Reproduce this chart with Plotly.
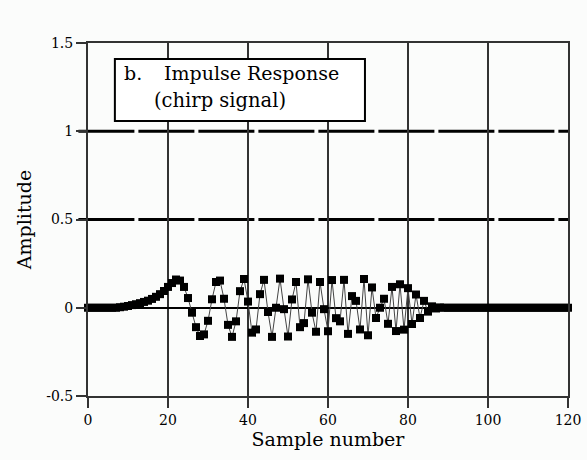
import plotly.graph_objects as go

# ---- data ----
sample_number = list(range(121))
amplitude = (
    [0.0] * 8
    + [0.003, 0.006, 0.010, 0.015, 0.020, 0.026, 0.033, 0.040, 0.050, 0.062,
       0.077, 0.095, 0.118, 0.140, 0.160, 0.154, 0.118, 0.055, -0.028, -0.110,
       -0.160, -0.151, -0.074, 0.048, 0.146, 0.154, 0.051, -0.097, -0.165, -0.077,
       0.094, 0.163, 0.035, -0.141, -0.123, 0.077, 0.158, -0.024, -0.165, 0.000,
       0.165, -0.008, -0.163, 0.047, 0.146, -0.110, -0.087, 0.161, -0.028, -0.136,
       0.146, -0.008, -0.133, 0.157, -0.059, -0.077, 0.158, -0.148, 0.066, 0.039,
       -0.123, 0.163, -0.156, 0.115, -0.058, 0.000, 0.051, -0.091, 0.118, -0.132,
       0.133, -0.124, 0.111, -0.092, 0.075, -0.058, 0.039, -0.022, 0.008, -0.004,
       0.002]
    + [0.0] * 32
)
x_ticks = [0, 20, 40, 60, 80, 100, 120]
y_ticks = [-0.5, 0, 0.5, 1, 1.5]
y_tick_labels = ["-0.5", "0", "0.5", "1", "1.5"]
dashed_levels = [0.5, 1.0]

FONT = "DejaVu Serif"
BG = "#fbfcfb"

fig = go.Figure()
fig.add_trace(go.Scatter(
    x=sample_number, y=amplitude, mode="lines+markers",
    line=dict(color="#444444", width=1),
    marker=dict(symbol="square", size=8, color="black", line=dict(width=0)),
    showlegend=False, hoverinfo="x+y", cliponaxis=False,
))

shapes = []
for lv in dashed_levels:
    shapes.append(dict(type="line", xref="paper", yref="y", x0=-0.02, x1=1.0, y0=lv, y1=lv,
                       line=dict(color="black", width=3, dash="56px,4px"), layer="below"))
# text box
shapes.append(dict(type="rect", xref="paper", yref="paper", x0=0.056, x1=0.577, y0=0.779, y1=0.955,
                   line=dict(color="black", width=2), fillcolor="white", layer="above"))

fig.update_layout(
    width=587, height=460,
    margin=dict(l=88, r=19, t=43, b=64, autoexpand=False),
    paper_bgcolor=BG, plot_bgcolor=BG,
    font=dict(family=FONT, color="black"),
    shapes=shapes,
    annotations=[
        dict(xref="paper", yref="paper", x=0.071, y=0.915, xanchor="left", yanchor="middle",
             text="b.", showarrow=False, font=dict(family=FONT, size=19, color="black")),
        dict(xref="paper", yref="paper", x=0.154, y=0.915, xanchor="left", yanchor="middle",
             text="Impulse Response", showarrow=False, font=dict(family=FONT, size=19, color="black")),
        dict(xref="paper", yref="paper", x=0.133, y=0.838, xanchor="left", yanchor="middle",
             text="(chirp signal)", showarrow=False, font=dict(family=FONT, size=19.5, color="black")),
    ],
    xaxis=dict(
        range=[0, 120], tickvals=x_ticks, ticktext=[str(v) for v in x_ticks],
        showgrid=True, gridcolor="#333333", gridwidth=1.5,
        showline=True, linecolor="#333333", linewidth=2, mirror=True,
        ticks="outside", ticklen=10, tickwidth=2, tickcolor="#333333",
        tickfont=dict(family=FONT, size=14), zeroline=False, automargin=False,
        title=dict(text="Sample number", font=dict(family=FONT, size=19), standoff=4),
    ),
    yaxis=dict(
        range=[-0.5, 1.5], tickvals=y_ticks, ticktext=y_tick_labels,
        showgrid=False, showline=True, linecolor="#333333", linewidth=2, mirror=True,
        ticks="outside", ticklen=10, tickwidth=2, tickcolor="#333333",
        tickfont=dict(family=FONT, size=14), automargin=False,
        zeroline=True, zerolinecolor="black", zerolinewidth=2,
        title=dict(text="Amplitude", font=dict(family=FONT, size=19), standoff=10),
    ),
)

fig.write_html("out.html")
